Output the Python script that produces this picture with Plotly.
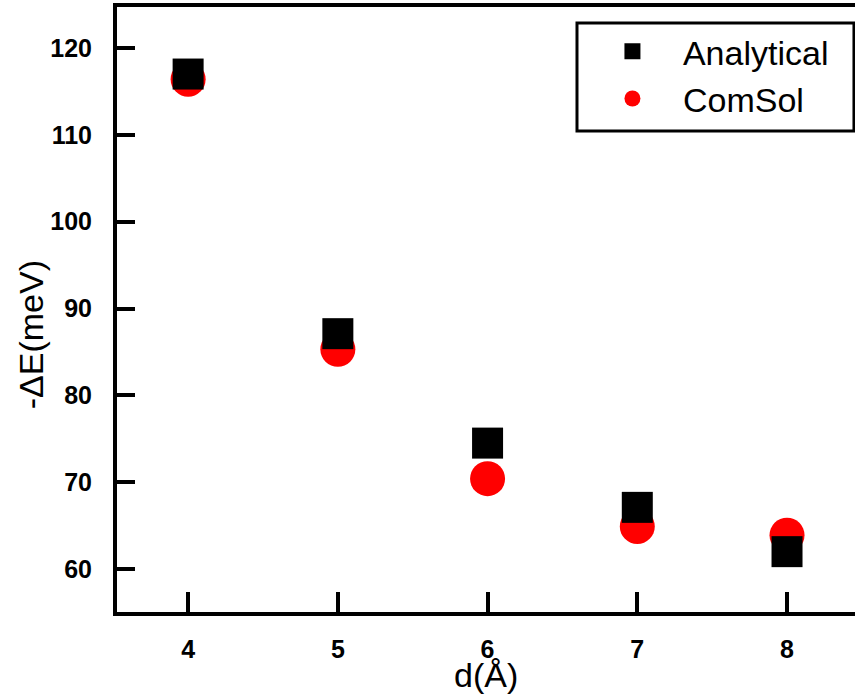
import plotly.graph_objects as go

# Interaction energy versus separation distance
d_values = [4, 5, 6, 7, 8]
analytical = [117.0, 87.1, 74.5, 67.1, 62.0]
comsol = [116.4, 85.3, 70.4, 64.9, 63.9]

x_ticks = [4, 5, 6, 7, 8]
y_ticks = [60, 70, 80, 90, 100, 110, 120]

FONT = "Liberation Sans, Arial, sans-serif"

fig = go.Figure()

# ComSol drawn first so the analytical squares sit on top
fig.add_trace(go.Scatter(
    x=d_values, y=comsol, mode="markers", name="ComSol",
    marker=dict(symbol="circle", size=35, color="#ff0000", line=dict(width=0)),
    legendrank=2,
))
fig.add_trace(go.Scatter(
    x=d_values, y=analytical, mode="markers", name="Analytical",
    marker=dict(symbol="square", size=31, color="#000000", line=dict(width=0)),
    legendrank=1,
))

fig.update_layout(
    width=855, height=696,
    margin=dict(l=117, r=0, t=7, b=84),
    paper_bgcolor="white", plot_bgcolor="white",
    showlegend=True,
    legend=dict(
        x=0.630, y=0.974, xanchor="left", yanchor="top",
        borderwidth=0, bgcolor="rgba(0,0,0,0)",
        font=dict(family=FONT, size=34, color="black"),
        itemwidth=91,
        tracegroupgap=0,
    ),
    # framed box behind the legend entries
    shapes=[
        dict(type="rect", xref="paper", yref="paper",
             x0=0.6233, x1=0.9986, y0=0.795, y1=0.9736,
             line=dict(color="black", width=3), fillcolor="white",
             layer="above"),
    ],
    xaxis=dict(
        range=[3.525, 8.454], tickvals=x_ticks,
        showgrid=False, zeroline=False,
        showline=True, linecolor="black", linewidth=4, mirror=True,
        ticks="inside", ticklen=20, tickwidth=4, tickcolor="black",
        tickfont=dict(family=FONT, size=25, color="black", weight="bold"),
        ticklabelstandoff=12,
    ),
    yaxis=dict(
        range=[55.05, 124.72], tickvals=y_ticks,
        showgrid=False, zeroline=False,
        showline=True, linecolor="black", linewidth=4, mirror=False,
        ticks="inside", ticklen=18, tickwidth=4, tickcolor="black",
        tickfont=dict(family=FONT, size=25, color="black", weight="bold"),
        ticklabelstandoff=16,
    ),
    annotations=[
        dict(text="d(Å)", xref="paper", yref="paper", x=0.500, y=-0.104,
             xanchor="center", yanchor="middle", showarrow=False,
             font=dict(family=FONT, size=34, color="black")),
        dict(text="-ΔE(meV)", xref="paper", yref="paper", x=-0.116, y=0.458,
             xanchor="center", yanchor="middle", showarrow=False, textangle=-90,
             font=dict(family=FONT, size=34, color="black")),
    ],
)

fig.write_html("out.html")
